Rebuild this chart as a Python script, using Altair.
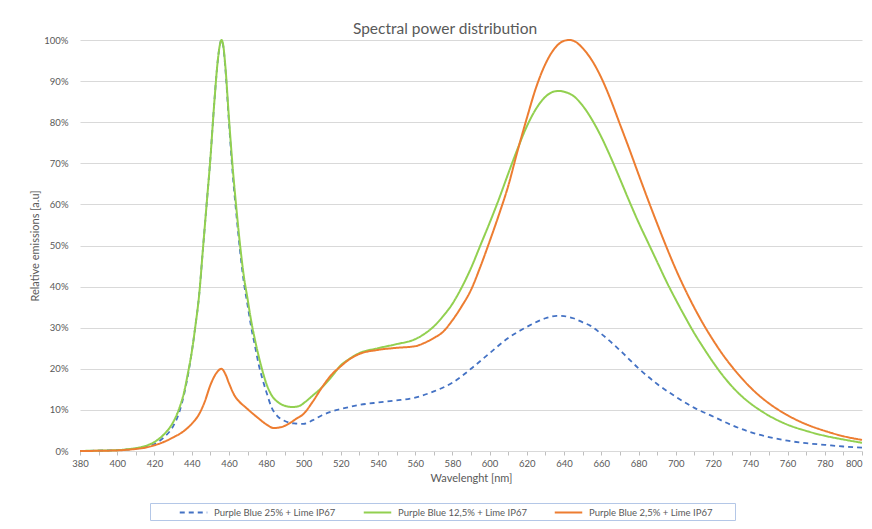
import altair as alt
import pandas as pd

# ---- data ----
series_names = [
    "Purple Blue 25% + Lime IP67",
    "Purple Blue 12,5% + Lime IP67",
    "Purple Blue 2,5% + Lime IP67",
]
series_colors = ["#4472c4", "#92d050", "#ed7d31"]

wl_blue = [380, 390, 400, 410, 415, 420, 425, 430, 433, 436, 438, 440, 442, 444, 446, 448, 450, 452, 454, 455, 456,
           457, 458, 460, 462, 464, 466, 468, 470, 472, 474, 476, 478, 480, 483, 486, 490, 495, 500, 505, 510, 515,
           520, 530, 540, 550, 560, 570, 580, 590, 600, 610, 620, 630, 636, 640, 645, 650, 654, 660, 670, 680, 690,
           700, 710, 720, 730, 740, 750, 760, 770, 780, 790, 800]
val_blue = [0, 0.1, 0.2, 0.6, 1.0, 1.7, 3.3, 6.0, 9.0, 14.0, 18.5, 24, 30.5, 38, 49, 60, 71, 84, 95, 98.5, 100,
            98.3, 93.5, 80, 67.5, 57.5, 48.5, 41, 35.5, 30, 25.5, 21, 17.5, 14.5, 10.5, 8.5, 7.3, 6.7, 6.6, 7.5, 8.7,
            9.6, 10.2, 11.2, 11.8, 12.3, 13.0, 14.5, 16.6, 20, 23.8, 27.5, 30.2, 32.3, 32.9, 32.8, 32.3, 31.3, 30.5,
            28.5, 24.5, 20.1, 16.3, 13.2, 10.5, 8.4, 6.3, 4.6, 3.4, 2.5, 1.9, 1.5, 1.1, 0.8]

wl_green = [380, 390, 400, 405, 410, 415, 420, 425, 430, 433, 436, 438, 440, 442, 444, 446, 448, 450, 452, 454, 455,
            456, 457, 458, 460, 462, 464, 466, 468, 470, 472, 474, 476, 478, 480, 483, 486, 490, 494, 498, 500, 505,
            510, 515, 520, 525, 530, 540, 550, 560, 565, 570, 575, 580, 585, 590, 595, 600, 605, 610, 615, 620, 625,
            630, 635, 638, 640, 645, 650, 655, 660, 665, 670, 675, 680, 685, 690, 695, 700, 705, 710, 715, 720, 725,
            730, 735, 740, 745, 750, 760, 770, 780, 790, 800]
val_green = [0, 0.1, 0.2, 0.4, 0.7, 1.2, 2.2, 4.0, 7.0, 10, 14.5, 19, 24, 30.5, 38, 49, 60, 71, 84, 95, 98.5,
             100, 98.5, 94, 81, 69, 59, 50, 42.5, 37, 31.5, 27, 23, 19.5, 16.5, 13.5, 12, 11, 10.7, 11, 11.6, 13.5,
             15.5, 18, 20.8, 22.5, 23.8, 25, 26, 27.2, 28.5, 30.3, 32.8, 35.8, 39.8, 44.5, 50, 55.5, 61.3, 67.5, 73.5,
             79, 83.3, 86.2, 87.5, 87.6, 87.4, 86.4, 84, 80.6, 76.4, 71.5, 66.2, 60.8, 55.6, 50.8, 46, 41.2, 36.8,
             32.6, 28.6, 25, 21.6, 18.5, 15.8, 13.5, 11.6, 10.0, 8.6, 6.4, 4.9, 3.7, 2.8, 2.0]

wl_orange = [380, 390, 400, 410, 415, 420, 425, 430, 435, 440, 444, 447, 450, 453, 456, 458, 460, 463, 466, 469, 472,
             476, 480, 484, 488, 492, 496, 500, 505, 510, 515, 520, 525, 530, 540, 550, 560, 565, 570, 575, 580, 585,
             590, 595, 600, 605, 610, 615, 620, 625, 630, 635, 640, 643, 646, 650, 655, 660, 665, 670, 675, 680, 685,
             690, 695, 700, 705, 710, 715, 720, 725, 730, 735, 740, 745, 750, 760, 770, 780, 790, 800]
val_orange = [0, 0.05, 0.15, 0.5, 0.8, 1.4, 2.2, 3.3, 4.6, 6.6, 9, 12, 16, 18.8, 20, 18.8, 16.5, 13.5, 11.8, 10.6,
              9.4, 7.9, 6.5, 5.6, 5.8, 6.6, 7.8, 9.0, 12, 15.5, 18.5, 20.6, 22.4, 23.6, 24.6, 25.1, 25.5, 26.3, 27.5,
              29, 31.8, 35.2, 39.2, 44.8, 51, 57.5, 64.5, 73, 81, 88.5, 94.2, 98, 99.8, 100, 99.6, 98, 95, 90.8, 85.5,
              79.5, 73.5, 67.3, 61.2, 55.3, 49.6, 44.2, 39.3, 34.8, 30.7, 27.0, 23.6, 20.6, 17.9, 15.5, 13.4, 11.6,
              8.7, 6.5, 4.9, 3.6, 2.7]

x_ticks = list(range(380, 801, 10))
y_ticks = list(range(0, 101, 10))

# ---- build table ----
frames = []
for name, wl, val in zip(series_names, [wl_blue, wl_green, wl_orange], [val_blue, val_green, val_orange]):
    frames.append(pd.DataFrame({"wl": wl, "val": val, "series": name}))
df = pd.concat(frames, ignore_index=True)

FONT = "Lato"
GREY = "#595959"

legend = alt.Legend(
    orient="none", legendX=70, legendY=463, direction="horizontal", columns=3,
    title="\u00a0", titleOrient="right", titlePadding=20, titleFontSize=8,
    symbolType="M-2.5,0H2.5", symbolSize=121, symbolStrokeWidth=2,
    symbolOffset=34, labelOffset=14, columnPadding=1,
    padding=3, strokeColor="#b4c7e7", fillColor="white",
    labelFont=FONT, labelFontSize=9.5, labelColor=GREY, labelLimit=300,
)

color = alt.Color("series:N", scale=alt.Scale(domain=series_names, range=series_colors), legend=legend)
dash = alt.StrokeDash("series:N", scale=alt.Scale(domain=series_names, range=[[5, 4], [1, 0], [1, 0]]), legend=legend)

x = alt.X("wl:Q", scale=alt.Scale(domain=[380, 800], nice=False, zero=False),
          axis=alt.Axis(title="Wavelenght [nm]", values=x_ticks,
                        labelExpr="datum.value % 20 == 0 ? datum.label : ''",
                        labelAlign=alt.ConditionalAxisLabelAlign(
                            condition={"test": "datum.value >= 800", "value": "right"}, value="center"),
                        grid=False, domainColor="#d9d9d9", tickColor="#bfbfbf", tickSize=4,
                        labelPadding=3, titlePadding=5, labelFlush=False,
                        labelFont=FONT, labelFontSize=9.5, labelColor=GREY,
                        titleFont=FONT, titleFontSize=11, titleColor=GREY, titleFontWeight="normal"))
y = alt.Y("val:Q", scale=alt.Scale(domain=[0, 100], nice=False),
          axis=alt.Axis(title="Relative emissions [a.u]", values=y_ticks,
                        labelExpr="datum.value + '%'", domain=False, ticks=False,
                        gridColor="#d9d9d9", labelPadding=12, titlePadding=3,
                        labelFont=FONT, labelFontSize=9.5, labelColor=GREY,
                        titleFont=FONT, titleFontSize=11, titleColor=GREY, titleFontWeight="normal"))

layers = []
for i, name in enumerate(series_names):
    layers.append(
        alt.Chart(df).transform_filter(alt.datum.series == name)
        .mark_line(interpolate="monotone", strokeWidth=2 if i else 1.8)
        .encode(x=x, y=y, color=color, strokeDash=dash, order="wl:Q")
    )

chart = alt.layer(*layers).properties(
    width=782, height=411,
    title=alt.TitleParams("Spectral power distribution", fontSize=15.5, font=FONT, color=GREY,
                          fontWeight="normal", anchor="middle", dx=-26, dy=8, offset=6),
    padding={"left": 72, "top": 32, "right": 2, "bottom": 70},
    autosize=alt.AutoSizeParams(type="none"),
    background="white",
).configure_view(stroke=None)

chart.save("out.html", embed_options={"renderer": "svg", "actions": False})
